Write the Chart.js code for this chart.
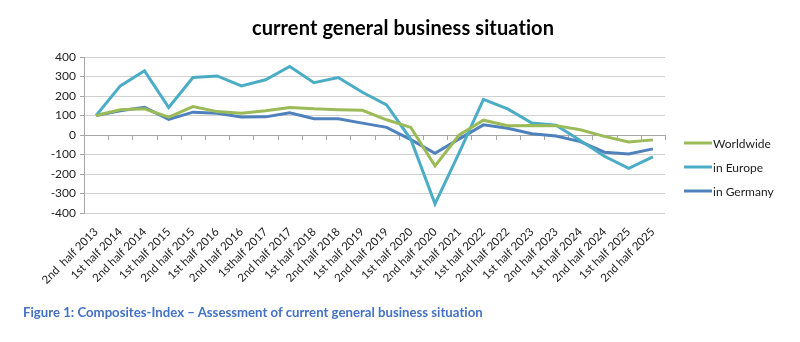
<!DOCTYPE html>
<html>
<head>
<meta charset="utf-8">
<script src="https://cdn.jsdelivr.net/npm/chart.js@4/dist/chart.umd.min.js"></script>
<style>
  body { margin: 0; background: #fff; }
  #wrap { position: relative; width: 800px; height: 342px; }
  #caption {
    position: absolute; left: 23px; top: 304px;
    font: bold 13.2px Lato, "Open Sans", sans-serif; color: #4472c4;
    font-variant-ligatures: none;
  }
</style>
</head>
<body>
<div id="wrap">
  <canvas id="chart" width="800" height="342"></canvas>
  <div id="caption">Figure 1: Composites-Index – Assessment of current general business situation</div>
</div>
<script>
const periods = [
    '2nd  half 2013', '1st half 2014', '2nd half 2014', '1st half 2015', '2nd half 2015',
    '1st half 2016', '2nd half 2016', '1sthalf 2017', '2nd half 2017', '1st half 2018',
    '2nd half 2018', '1st half 2019', '2nd half 2019', '1st half 2020', '2nd half 2020',
    '1st half 2021', '1st half 2022', '2nd half 2022', '1st half 2023', '2nd half 2023',
    '1st half 2024', '2nd half 2024', '1st half 2025', '2nd half 2025'
];
const worldwide = [100, 129, 134, 92, 146, 120, 112, 124, 141, 134, 130, 127, 78, 39, -158, 0, 76, 47, 49, 48, 27, -7, -36, -25];
const europe = [100, 252, 329, 141, 295, 303, 252, 283, 351, 268, 295, 219, 154, -22, -353, -90, 183, 134, 61, 50, -28, -109, -171, -112];
const germany = [100, 124, 142, 80, 117, 112, 92, 93, 114, 83, 83, 61, 39, -24, -94, -20, 52, 35, 6, -5, -34, -88, -97, -71];
const yTicks = [-400, -300, -200, -100, 0, 100, 200, 300, 400];

const font = 'Lato, "Open Sans", sans-serif';

const decorPlugin = {
    id: 'decor',
    beforeDatasetsDraw(chart) {
        const { ctx, chartArea, scales } = chart;
        const y0 = scales.y.getPixelForValue(0);
        const n = periods.length;
        const step = (chartArea.right - chartArea.left) / n;
        ctx.save();
        ctx.strokeStyle = '#a6a6a6';
        ctx.lineWidth = 1;
        ctx.beginPath();
        ctx.moveTo(chartArea.left, Math.round(y0) + 0.5);
        ctx.lineTo(chartArea.right, Math.round(y0) + 0.5);
        for (let i = 1; i <= n; i++) {
            const x = Math.round(chartArea.left + i * step) + 0.5;
            ctx.moveTo(x, y0);
            ctx.lineTo(x, y0 + 5);
        }
        ctx.stroke();
        ctx.restore();
    },
    afterDraw(chart) {
        const { ctx } = chart;
        ctx.save();
        ctx.fillStyle = '#000';
        ctx.font = 'bold 20px ' + font;
        ctx.letterSpacing = '0.1px';
        ctx.textAlign = 'center';
        ctx.textBaseline = 'middle';
        ctx.fillText('current general business situation', 403, 29);
        ctx.letterSpacing = '0px';

        ctx.font = '12px ' + font;
        ctx.textAlign = 'left';
        chart.data.datasets.forEach((ds, i) => {
            const y = 143 + i * 24;
            ctx.strokeStyle = ds.borderColor;
            ctx.lineWidth = 3;
            ctx.beginPath();
            ctx.moveTo(684, y);
            ctx.lineTo(712, y);
            ctx.stroke();
            ctx.fillStyle = '#222';
            ctx.fillText(ds.label, 713, y + 1);
        });
        ctx.restore();
    }
};

new Chart(document.getElementById('chart').getContext('2d'), {
    type: 'line',
    data: {
        labels: periods,
        datasets: [
            { label: 'Worldwide', data: worldwide, borderColor: '#9bbb59' },
            { label: 'in Europe', data: europe, borderColor: '#4bacc6' },
            { label: 'in Germany', data: germany, borderColor: '#4f81bd' }
        ]
    },
    options: {
        responsive: false,
        animation: false,
        layout: { padding: { top: 57, right: 135, left: 0, bottom: 0 } },
        elements: {
            line: { borderWidth: 3, tension: 0, fill: false },
            point: { radius: 0 }
        },
        plugins: {
            legend: { display: false },
            title: { display: false },
            tooltip: { enabled: false }
        },
        scales: {
            x: {
                offset: true,
                grid: { display: false, offset: true },
                border: { display: false },
                ticks: {
                    autoSkip: false,
                    maxRotation: 45,
                    minRotation: 45,
                    padding: 4,
                    color: '#222',
                    font: { family: font, size: 11.5 }
                },
                afterFit(scale) { scale.height = 129; }
            },
            y: {
                min: -400,
                max: 400,
                afterBuildTicks(scale) { scale.ticks = yTicks.map(v => ({ value: v })); },
                grid: { color: '#d0d0d0', tickLength: 4, tickColor: '#a6a6a6' },
                border: { display: true, color: '#a6a6a6' },
                ticks: {
                    padding: 4,
                    color: '#222',
                    font: { family: font, size: 12 }
                },
                afterFit(scale) { scale.width = 84; }
            }
        }
    },
    plugins: [decorPlugin]
});
</script>
</body>
</html>
